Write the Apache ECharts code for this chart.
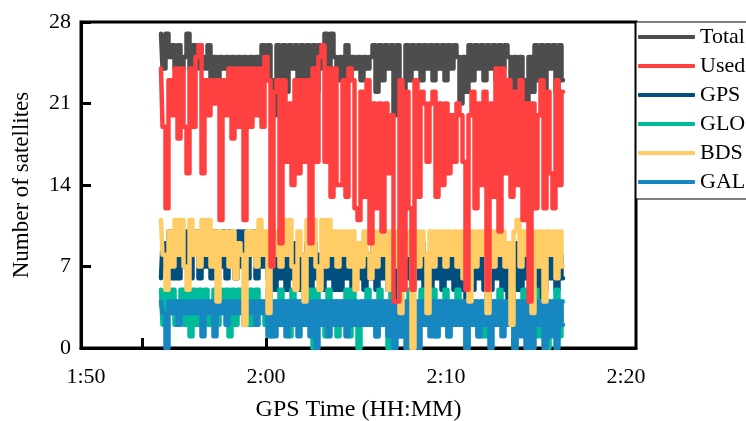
<!DOCTYPE html>
<html>
<head>
<meta charset="utf-8">
<script src="https://cdn.jsdelivr.net/npm/echarts@6/dist/echarts.min.js"></script>
<style>html,body{margin:0;padding:0;background:#fff;}#c{width:746px;height:421px;}</style>
</head>
<body>
<div id="c"></div>
<script>
// Sampling grid: one sample every 10 s starting at 1:54:10 (minutes after 1:00)
const sampleStartMin = 54 + 10 / 60;
const sampleStepSec = 10;

const seriesNames = ['Total', 'Used', 'GPS', 'GLO', 'BDS', 'GAL'];
const xLabelValues = [50, 60, 70, 80];
const xTickValues = [53.11, 60, 66.83, 73.67];
const yTicks = [0, 7, 14, 21, 28];

const total = [
27,24,27,25,26,24,26,24,25,27,
24,26,24,26,25,24,26,23,25,23,
25,24,25,23,25,24,25,24,25,24,
25,24,25,24,26,23,26,23,20,26,
21,26,22,26,24,26,23,26,22,26,
23,26,22,26,24,27,24,27,25,23,
25,23,26,23,25,24,25,23,25,24,
25,26,22,26,23,26,24,26,20,26,
23,21,26,23,26,24,26,23,26,24,
26,23,26,24,26,23,26,24,26,25,
21,25,22,26,23,26,24,26,23,26,
24,26,23,26,24,26,25,22,25,21,
25,23,20,25,22,26,23,26,22,26,
24,26,22,26,23];

const used = [
24,19,12,23,20,24,18,24,19,15,
24,19,25,26,15,23,20,23,21,23,
11,23,20,24,18,24,19,24,11,24,
19,24,20,24,19,25,23,7,22,23,
9,23,16,21,14,23,15,23,16,23,
9,24,16,25,26,16,24,13,24,14,
14,23,13,24,23,12,11,22,13,23,
9,21,12,21,10,21,15,20,4,4,
23,5,22,12,5,23,13,22,21,16,
21,22,13,21,14,21,15,20,16,21,
20,16,5,20,22,12,21,14,22,5,
21,13,24,10,24,15,23,13,22,14,
23,11,21,4,21,12,20,23,12,22,
15,12,23,14,22];

const gps = [
6,9,7,10,6,8,6,9,7,10,
6,9,10,6,9,7,10,6,10,9,
7,10,6,10,9,6,10,7,10,6,
9,10,6,10,7,9,6,8,5,9,
6,9,5,8,6,9,5,8,6,9,
5,9,6,8,5,9,6,8,5,9,
5,8,6,9,5,8,6,9,5,8,
6,9,5,8,6,9,5,8,4,9,
5,8,6,9,5,8,6,9,5,8,
5,9,6,8,5,9,6,8,5,9,
5,8,4,9,5,8,6,9,5,8,
5,9,6,8,5,9,4,8,5,9,
5,8,6,9,5,8,4,9,5,8,
6,9,5,8,6];

const glo = [
5,2,5,3,5,2,4,5,2,5,
1,5,2,5,3,5,2,4,5,2,
5,3,5,1,5,2,5,3,5,2,
5,2,5,3,4,2,5,1,4,2,
5,2,4,1,5,2,4,3,5,2,
5,0,5,2,4,1,5,2,4,1,
4,2,5,1,5,2,0,4,2,5,
2,4,1,5,2,4,0,5,2,4,
1,4,2,5,1,4,2,5,2,4,
2,5,1,4,2,5,1,4,2,5,
2,4,0,4,2,4,1,4,1,5,
2,4,3,5,2,4,3,5,0,4,
2,5,1,4,2,5,1,4,2,0,
4,2,5,1,4];

const bds = [
11,8,5,10,7,11,8,11,7,5,
11,8,10,7,11,8,11,7,10,4,
10,8,10,7,10,6,9,8,2,10,
8,10,7,11,8,10,3,11,8,10,
7,11,8,11,7,5,10,8,4,11,
8,11,7,5,11,7,11,8,10,7,
10,8,10,7,10,5,9,7,10,8,
6,10,7,10,8,10,5,10,7,10,
3,10,8,10,0,10,7,10,8,3,
10,7,10,8,10,7,10,8,10,7,
10,6,10,4,10,7,10,8,10,3,
10,7,10,8,10,7,9,2,10,11,
7,10,8,10,3,10,7,10,4,10,
8,10,6,10,7];

const gal = [
4,3,0,4,3,4,2,4,3,4,
3,4,3,4,1,4,3,4,1,4,
3,4,2,4,3,4,3,4,2,4,
3,4,2,4,3,4,1,4,1,4,
2,4,1,4,2,4,1,4,2,4,
1,4,0,4,2,4,1,4,2,4,
2,4,1,4,2,4,2,4,2,4,
2,4,1,4,2,4,1,4,0,4,
1,4,0,4,1,4,0,4,2,4,
1,4,1,4,2,4,1,4,2,4,
2,4,0,4,2,4,1,4,2,4,
0,4,2,4,1,4,2,4,0,4,
1,4,0,4,0,4,2,4,0,4,
1,4,0,4,2];

const colors = {
  Total: '#4d4d4d', Used: '#ff4040', GPS: '#004f7e',
  GLO: '#00bb9a', BDS: '#ffcc66', GAL: '#1787c2'
};

function pairs(vals) {
  return vals.map((v, i) => [sampleStartMin + i * sampleStepSec / 60, v]);
}
function fmt(v) {
  const h = 1 + Math.floor(v / 60);
  const m = Math.round(v % 60);
  return h + ':' + (m < 10 ? '0' + m : m);
}
function mk(name, vals) {
  return {
    name: name, type: 'line', step: 'middle', data: pairs(vals),
    showSymbol: false, symbol: 'none', silent: true,
    color: colors[name],
    lineStyle: { width: 4.5, color: colors[name], cap: 'round', join: 'round' }
  };
}

const font = '"Liberation Serif", "Times New Roman", serif';
const chart = echarts.init(document.getElementById('c'), null, { renderer: 'canvas' });
chart.setOption({
  animation: false,
  backgroundColor: '#fff',
  grid: { left: 81, right: 110, top: 22, bottom: 73, show: true, borderColor: '#000', borderWidth: 3, backgroundColor: 'transparent', containLabel: false, outerBoundsMode: 'none' },
  legend: {
    orient: 'vertical', left: 636, top: 22,
    data: seriesNames,
    itemWidth: 57, itemHeight: 4, itemGap: 7,
    padding: [4, 120, 6, 2],
    borderColor: '#000', borderWidth: 1, backgroundColor: '#fff',
    textStyle: { fontFamily: font, fontSize: 22, color: '#000', lineHeight: 22 },
    icon: 'roundRect'
  },
  xAxis: {
    type: 'value', min: 49.722, max: 80.556,
    name: 'GPS Time (HH:MM)', nameLocation: 'middle', nameGap: 50,
    nameTextStyle: { fontFamily: font, fontSize: 24, color: '#000' },
    axisLine: { lineStyle: { color: '#000', width: 3 } },
    axisTick: { inside: true, length: 10, lineStyle: { color: '#000', width: 3 }, customValues: xTickValues },
    axisLabel: { fontFamily: font, fontSize: 22, color: '#000', margin: 18, customValues: xLabelValues, formatter: fmt },
    splitLine: { show: false }
  },
  yAxis: {
    type: 'value', min: 0, max: 28, interval: 7,
    name: 'Number of satellites', nameLocation: 'middle', nameGap: 48,
    nameTextStyle: { fontFamily: font, fontSize: 23, color: '#000' },
    axisLine: { show: true, lineStyle: { color: '#000', width: 3 } },
    axisTick: { inside: true, length: 10, lineStyle: { color: '#000', width: 3 }, customValues: yTicks },
    axisLabel: { fontFamily: font, fontSize: 22, color: '#000', margin: 10 },
    splitLine: { show: false }
  },
  series: [
    mk('Total', total),
    mk('GPS', gps),
    mk('GLO', glo),
    mk('GAL', gal),
    mk('BDS', bds),
    mk('Used', used)
  ]
});
</script>
</body>
</html>
